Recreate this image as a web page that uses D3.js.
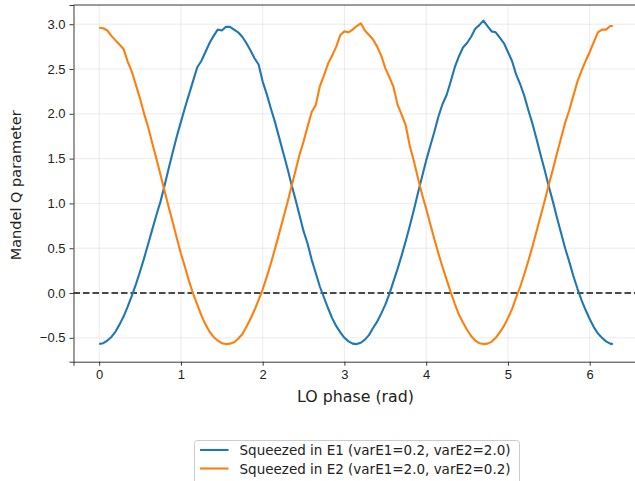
<!DOCTYPE html>
<html>
<head>
<meta charset="utf-8">
<script src="https://cdn.jsdelivr.net/npm/d3@7"></script>
<style>
  body { margin: 0; background: #fff; }
  svg { display: block; font-family: "DejaVu Sans", sans-serif; }
  .grid line { stroke: #b0b0b0; stroke-opacity: 0.3; stroke-width: 0.8; }
  .axis path, .axis line { stroke: #222; stroke-width: 0.9; }
  .axis text { fill: #222; font-size: 13px; }
</style>
</head>
<body>
<div id="chart"></div>
<script>
var width = 635, height = 481;

// LO phase (rad)
var phase = [0, 0.05, 0.1, 0.15, 0.2, 0.25, 0.3, 0.35, 0.4, 0.45,
  0.5, 0.55, 0.6, 0.65, 0.7, 0.75, 0.8, 0.85, 0.9, 0.95,
  1.0, 1.05, 1.1, 1.15, 1.2, 1.25, 1.3, 1.35, 1.4, 1.45,
  1.5, 1.55, 1.6, 1.65, 1.7, 1.75, 1.8, 1.85, 1.9, 1.95,
  2.0, 2.05, 2.1, 2.15, 2.2, 2.25, 2.3, 2.35, 2.4, 2.45,
  2.5, 2.55, 2.6, 2.65, 2.7, 2.75, 2.8, 2.85, 2.9, 2.95,
  3.0, 3.05, 3.1, 3.15, 3.2, 3.25, 3.3, 3.35, 3.4, 3.45,
  3.5, 3.55, 3.6, 3.65, 3.7, 3.75, 3.8, 3.85, 3.9, 3.95,
  4.0, 4.05, 4.1, 4.15, 4.2, 4.25, 4.3, 4.35, 4.4, 4.45,
  4.5, 4.55, 4.6, 4.65, 4.7, 4.75, 4.8, 4.85, 4.9, 4.95,
  5.0, 5.05, 5.1, 5.15, 5.2, 5.25, 5.3, 5.35, 5.4, 5.45,
  5.5, 5.55, 5.6, 5.65, 5.7, 5.75, 5.8, 5.85, 5.9, 5.95,
  6.0, 6.05, 6.1, 6.15, 6.2, 6.25, 6.283];

// squeezed in E1
var qE1 = [-0.57, -0.56, -0.53, -0.49, -0.43, -0.35, -0.26, -0.15, -0.03, 0.10,
  0.24, 0.39, 0.55, 0.71, 0.87, 1.02, 1.20, 1.39, 1.57, 1.75,
  1.91, 2.07, 2.22, 2.37, 2.52, 2.59, 2.69, 2.79, 2.87, 2.94,
  2.93, 2.97, 2.97, 2.94, 2.91, 2.86, 2.79, 2.71, 2.62, 2.55,
  2.36, 2.22, 2.06, 1.91, 1.74, 1.57, 1.40, 1.22, 1.05, 0.87,
  0.69, 0.55, 0.37, 0.22, 0.07, -0.05, -0.17, -0.28, -0.37, -0.44,
  -0.50, -0.54, -0.565, -0.57, -0.555, -0.52, -0.47, -0.39, -0.32, -0.23,
  -0.13, -0.01, 0.13, 0.27, 0.42, 0.58, 0.75, 0.93, 1.12, 1.30,
  1.48, 1.64, 1.80, 1.97, 2.11, 2.21, 2.36, 2.52, 2.64, 2.74,
  2.79, 2.86, 2.95, 2.99, 3.04, 2.98, 2.92, 2.91, 2.85, 2.79,
  2.69, 2.59, 2.44, 2.33, 2.20, 2.04, 1.89, 1.72, 1.54, 1.37,
  1.19, 1.02, 0.84, 0.67, 0.50, 0.35, 0.19, 0.05, -0.08, -0.19,
  -0.29, -0.38, -0.45, -0.50, -0.54, -0.565, -0.57];

// squeezed in E2
var qE2 = [2.96, 2.955, 2.93, 2.87, 2.82, 2.77, 2.72, 2.58, 2.47, 2.32,
  2.17, 2.00, 1.85, 1.67, 1.50, 1.32, 1.14, 0.96, 0.79, 0.61,
  0.44, 0.29, 0.13, -0.01, -0.13, -0.25, -0.35, -0.43, -0.49, -0.53,
  -0.56, -0.57, -0.565, -0.55, -0.51, -0.46, -0.38, -0.29, -0.19, -0.08,
  0.04, 0.18, 0.33, 0.49, 0.66, 0.83, 1.00, 1.18, 1.36, 1.54,
  1.69, 1.86, 2.02, 2.10, 2.31, 2.43, 2.56, 2.65, 2.75, 2.88,
  2.92, 2.91, 2.94, 2.98, 3.01, 2.93, 2.88, 2.83, 2.75, 2.65,
  2.51, 2.41, 2.30, 2.10, 1.99, 1.87, 1.64, 1.47, 1.28, 1.10,
  0.94, 0.77, 0.60, 0.44, 0.29, 0.15, 0.01, -0.12, -0.24, -0.33,
  -0.41, -0.48, -0.53, -0.56, -0.57, -0.565, -0.545, -0.50, -0.44, -0.37,
  -0.28, -0.18, -0.05, 0.07, 0.21, 0.36, 0.52, 0.69, 0.86, 1.03,
  1.21, 1.38, 1.56, 1.73, 1.90, 2.04, 2.20, 2.36, 2.48, 2.59,
  2.69, 2.80, 2.91, 2.94, 2.94, 2.98, 2.98];

var xTicks = [0, 1, 2, 3, 4, 5, 6],
    yTicks = [-0.5, 0, 0.5, 1, 1.5, 2, 2.5, 3];

var labels = ["Squeezed in E1 (varE1=0.2, varE2=2.0)",
              "Squeezed in E2 (varE1=2.0, varE2=0.2)"],
    colors = ["#1f77b4", "#ff7f0e"];

var plot = {left: 73.5, right: 638.5, top: 5, bottom: 361.7};

var svg = d3.select("#chart").append("svg")
    .attr("width", width)
    .attr("height", height);

var x = d3.scaleLinear().domain([-0.314, 6.597]).range([plot.left, plot.right]),
    y = d3.scaleLinear().domain([-0.7665, 3.2145]).range([plot.bottom, plot.top]);

// grid
var grid = svg.append("g").attr("class", "grid");
grid.selectAll(".gx").data(xTicks).enter().append("line")
    .attr("x1", function(d) { return x(d); })
    .attr("x2", function(d) { return x(d); })
    .attr("y1", plot.top).attr("y2", plot.bottom);
grid.selectAll(".gy").data(yTicks).enter().append("line")
    .attr("x1", plot.left).attr("x2", plot.right)
    .attr("y1", function(d) { return y(d); })
    .attr("y2", function(d) { return y(d); });

// zero line
svg.append("line")
    .attr("x1", plot.left).attr("x2", plot.right)
    .attr("y1", y(0)).attr("y2", y(0))
    .attr("stroke", "#111")
    .attr("stroke-width", 1.6)
    .attr("stroke-dasharray", "6.5,3");

// curves
var line = d3.line()
    .x(function(d) { return x(d[0]); })
    .y(function(d) { return y(d[1]); });

[qE1, qE2].forEach(function(series, i) {
    svg.append("path")
        .datum(d3.zip(phase, series))
        .attr("fill", "none")
        .attr("stroke", colors[i])
        .attr("stroke-width", 2.1)
        .attr("stroke-linejoin", "round")
        .attr("d", line);
});

// axes
var xAxis = d3.axisBottom(x).tickValues(xTicks).tickSize(4).tickPadding(4)
        .tickFormat(d3.format("d")),
    yAxis = d3.axisLeft(y).tickValues(yTicks).tickSize(4).tickPadding(4)
        .tickFormat(function(d) { return d3.format(".1f")(d).replace("-", "\u2212"); });

svg.append("g").attr("class", "axis")
    .attr("transform", "translate(0," + plot.bottom + ")")
    .call(xAxis);
svg.append("g").attr("class", "axis")
    .attr("transform", "translate(" + plot.left + ",0)")
    .call(yAxis);

svg.append("line")
    .attr("x1", plot.left).attr("x2", plot.right)
    .attr("y1", plot.top).attr("y2", plot.top)
    .attr("stroke", "#222").attr("stroke-width", 0.9);
svg.append("line")
    .attr("x1", plot.right).attr("x2", plot.right)
    .attr("y1", plot.top).attr("y2", plot.bottom)
    .attr("stroke", "#222").attr("stroke-width", 0.9);

// axis labels
svg.append("text")
    .attr("x", 355.5)
    .attr("y", 401.5)
    .attr("text-anchor", "middle")
    .attr("font-size", 15.8)
    .attr("fill", "#222")
    .text("LO phase (rad)");

svg.append("text")
    .attr("transform", "translate(21," + ((plot.top + plot.bottom) / 2 + 2) + ") rotate(-90)")
    .attr("text-anchor", "middle")
    .attr("font-size", 14.5)
    .attr("fill", "#222")
    .text("Mandel Q parameter");

// legend
var legend = svg.append("g").attr("transform", "translate(194.5,440.5)");
legend.append("rect")
    .attr("width", 325).attr("height", 46)
    .attr("rx", 3)
    .attr("fill", "#fff")
    .attr("stroke", "#ccc");
labels.forEach(function(t, i) {
    var ly = 9.5 + i * 18.5;
    legend.append("line")
        .attr("x1", 5.5).attr("x2", 34)
        .attr("y1", ly).attr("y2", ly)
        .attr("stroke", colors[i]).attr("stroke-width", 2.1);
    legend.append("text")
        .attr("x", 45).attr("y", ly + 5)
        .attr("font-size", 13.5)
        .attr("fill", "#222")
        .text(t);
});
</script>
</body>
</html>
